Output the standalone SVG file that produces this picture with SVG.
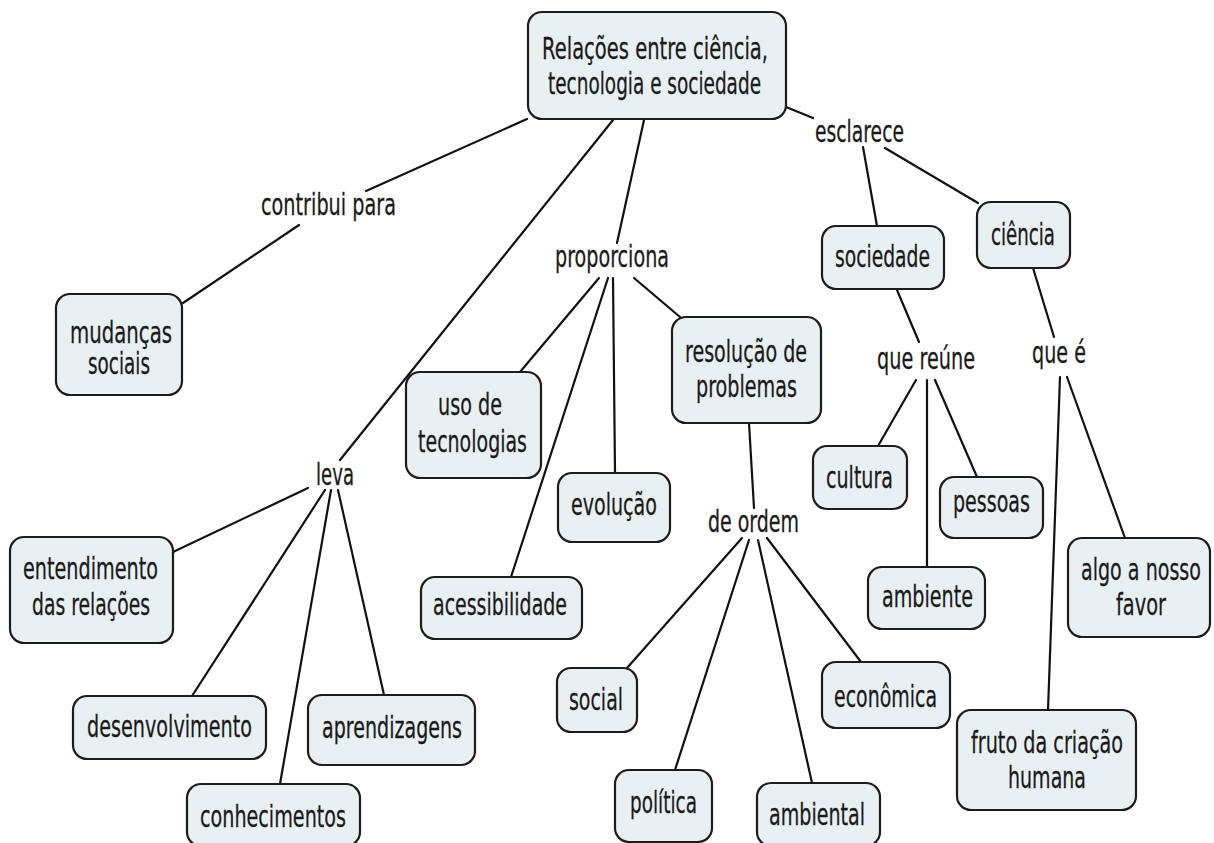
<svg xmlns="http://www.w3.org/2000/svg" width="1214" height="843" viewBox="0 0 1214 843">
<style>
.n{fill:#e9f0f3;stroke:#1c1c1c;stroke-width:2.2}
.t{font-family:"DejaVu Sans","Liberation Sans",sans-serif;font-size:31px;fill:#1a1a1a;stroke:#1a1a1a;stroke-width:0.3}
.c line{stroke:#111;stroke-width:2.2;stroke-linecap:round}
</style>
<rect width="1214" height="843" fill="#ffffff"/>
<g class="c" id="connectors">
<line x1="527" y1="119" x2="366" y2="191"/>
<line x1="299" y1="225" x2="183" y2="303"/>
<line x1="613" y1="120" x2="340" y2="460"/>
<line x1="644" y1="120" x2="617" y2="243"/>
<line x1="786" y1="107" x2="813" y2="118"/>
<line x1="863" y1="147" x2="877" y2="226"/>
<line x1="885" y1="148" x2="978" y2="203"/>
<line x1="599" y1="278" x2="520" y2="372"/>
<line x1="608" y1="278" x2="511" y2="577"/>
<line x1="613" y1="278" x2="615" y2="473"/>
<line x1="634" y1="278" x2="680" y2="317"/>
<line x1="749" y1="423" x2="754" y2="508"/>
<line x1="742" y1="538" x2="627" y2="668"/>
<line x1="749" y1="540" x2="675" y2="770"/>
<line x1="758" y1="540" x2="812" y2="783"/>
<line x1="767" y1="538" x2="861" y2="662"/>
<line x1="308" y1="488" x2="173" y2="552"/>
<line x1="325" y1="490" x2="192" y2="696"/>
<line x1="331" y1="490" x2="280" y2="784"/>
<line x1="338" y1="490" x2="384" y2="695"/>
<line x1="897" y1="290" x2="919" y2="342"/>
<line x1="916" y1="380" x2="878" y2="446"/>
<line x1="927" y1="380" x2="927" y2="567"/>
<line x1="935" y1="380" x2="977" y2="477"/>
<line x1="1033" y1="268" x2="1054" y2="337"/>
<line x1="1060" y1="377" x2="1048" y2="710"/>
<line x1="1067" y1="377" x2="1125" y2="538"/>
</g>
<g id="labels">
<text class="t" x="261" y="215" textLength="135" lengthAdjust="spacingAndGlyphs">contribui para</text>
<text class="t" x="555" y="267" textLength="114" lengthAdjust="spacingAndGlyphs">proporciona</text>
<text class="t" x="815" y="142" textLength="89" lengthAdjust="spacingAndGlyphs">esclarece</text>
<text class="t" x="316" y="485" textLength="38" lengthAdjust="spacingAndGlyphs">leva</text>
<text class="t" x="708" y="532" textLength="91" lengthAdjust="spacingAndGlyphs">de ordem</text>
<text class="t" x="877" y="369" textLength="98" lengthAdjust="spacingAndGlyphs">que reúne</text>
<text class="t" x="1032" y="363" textLength="54" lengthAdjust="spacingAndGlyphs">que é</text>
</g>
<g id="n-root"><rect class="n" x="528" y="12" width="258" height="107" rx="14"/>
<text class="t" x="542" y="59" textLength="226" lengthAdjust="spacingAndGlyphs">Relações entre ciência,</text>
<text class="t" x="548" y="94" textLength="213" lengthAdjust="spacingAndGlyphs">tecnologia e sociedade</text></g>
<g id="n-mudancas"><rect class="n" x="56" y="294" width="126" height="101" rx="14"/>
<text class="t" x="70" y="343" textLength="102" lengthAdjust="spacingAndGlyphs">mudanças</text>
<text class="t" x="88" y="374" textLength="62" lengthAdjust="spacingAndGlyphs">sociais</text></g>
<g id="n-uso"><rect class="n" x="406" y="372" width="135" height="106" rx="14"/>
<text class="t" x="438" y="415" textLength="64" lengthAdjust="spacingAndGlyphs">uso de</text>
<text class="t" x="418" y="452" textLength="109" lengthAdjust="spacingAndGlyphs">tecnologias</text></g>
<g id="n-resolucao"><rect class="n" x="672" y="317" width="149" height="106" rx="14"/>
<text class="t" x="685" y="362" textLength="122" lengthAdjust="spacingAndGlyphs">resolução de</text>
<text class="t" x="696" y="397" textLength="101" lengthAdjust="spacingAndGlyphs">problemas</text></g>
<g id="n-evolucao"><rect class="n" x="558" y="473" width="112" height="69" rx="14"/>
<text class="t" x="571" y="515" textLength="86" lengthAdjust="spacingAndGlyphs">evolução</text></g>
<g id="n-acessibilidade"><rect class="n" x="421" y="577" width="161" height="62" rx="14"/>
<text class="t" x="433" y="615" textLength="134" lengthAdjust="spacingAndGlyphs">acessibilidade</text></g>
<g id="n-sociedade"><rect class="n" x="822" y="226" width="122" height="63" rx="14"/>
<text class="t" x="835" y="267" textLength="95" lengthAdjust="spacingAndGlyphs">sociedade</text></g>
<g id="n-ciencia"><rect class="n" x="977" y="202" width="93" height="66" rx="14"/>
<text class="t" x="991" y="245" textLength="64" lengthAdjust="spacingAndGlyphs">ciência</text></g>
<g id="n-cultura"><rect class="n" x="813" y="446" width="94" height="63" rx="14"/>
<text class="t" x="826" y="488" textLength="67" lengthAdjust="spacingAndGlyphs">cultura</text></g>
<g id="n-pessoas"><rect class="n" x="940" y="477" width="103" height="61" rx="14"/>
<text class="t" x="953" y="512" textLength="77" lengthAdjust="spacingAndGlyphs">pessoas</text></g>
<g id="n-ambiente"><rect class="n" x="868" y="567" width="117" height="62" rx="14"/>
<text class="t" x="882" y="607" textLength="91" lengthAdjust="spacingAndGlyphs">ambiente</text></g>
<g id="n-algo"><rect class="n" x="1068" y="538" width="142" height="99" rx="14"/>
<text class="t" x="1081" y="580" textLength="120" lengthAdjust="spacingAndGlyphs">algo a nosso</text>
<text class="t" x="1116" y="615" textLength="50" lengthAdjust="spacingAndGlyphs">favor</text></g>
<g id="n-fruto"><rect class="n" x="957" y="710" width="179" height="100" rx="14"/>
<text class="t" x="971" y="753" textLength="152" lengthAdjust="spacingAndGlyphs">fruto da criação</text>
<text class="t" x="1008" y="788" textLength="78" lengthAdjust="spacingAndGlyphs">humana</text></g>
<g id="n-entendimento"><rect class="n" x="10" y="537" width="163" height="106" rx="14"/>
<text class="t" x="23" y="579" textLength="135" lengthAdjust="spacingAndGlyphs">entendimento</text>
<text class="t" x="32" y="615" textLength="118" lengthAdjust="spacingAndGlyphs">das relações</text></g>
<g id="n-desenvolvimento"><rect class="n" x="73" y="696" width="193" height="63" rx="14"/>
<text class="t" x="87" y="737" textLength="165" lengthAdjust="spacingAndGlyphs">desenvolvimento</text></g>
<g id="n-aprendizagens"><rect class="n" x="308" y="695" width="167" height="70" rx="14"/>
<text class="t" x="322" y="738" textLength="140" lengthAdjust="spacingAndGlyphs">aprendizagens</text></g>
<g id="n-conhecimentos"><rect class="n" x="187" y="784" width="173" height="62" rx="14"/>
<text class="t" x="200" y="827" textLength="146" lengthAdjust="spacingAndGlyphs">conhecimentos</text></g>
<g id="n-social"><rect class="n" x="557" y="668" width="80" height="64" rx="14"/>
<text class="t" x="569" y="710" textLength="54" lengthAdjust="spacingAndGlyphs">social</text></g>
<g id="n-politica"><rect class="n" x="615" y="770" width="97" height="72" rx="14"/>
<text class="t" x="630" y="813" textLength="67" lengthAdjust="spacingAndGlyphs">política</text></g>
<g id="n-ambiental"><rect class="n" x="757" y="783" width="123" height="63" rx="14"/>
<text class="t" x="769" y="825" textLength="96" lengthAdjust="spacingAndGlyphs">ambiental</text></g>
<g id="n-economica"><rect class="n" x="822" y="662" width="128" height="66" rx="14"/>
<text class="t" x="834" y="707" textLength="103" lengthAdjust="spacingAndGlyphs">econômica</text></g>
</svg>
